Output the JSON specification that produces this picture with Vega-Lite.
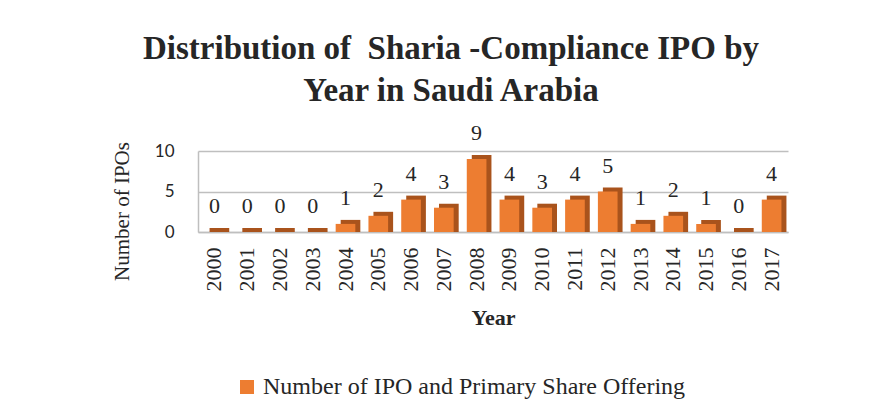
{
  "$schema": "https://vega.github.io/schema/vega-lite/v6.json",
  "autosize": "none",
  "width": 590,
  "height": 81,
  "padding": {"left": 198, "top": 151, "right": 95, "bottom": 180},
  "background": "white",
  "config": {"view": {"stroke": null}},
  "title": {
    "text": ["Distribution of\u00a0 Sharia -Compliance IPO by", "Year in Saudi Arabia"],
    "font": "Liberation Serif",
    "fontSize": 33,
    "fontWeight": "bold",
    "color": "#262626",
    "lineHeight": 42,
    "anchor": "middle",
    "frame": "group",
    "dx": -42,
    "offset": 14
  },
  "data": {
    "values": [
      {"Year": "2000", "IPOs": 0, "Series": "Number of IPO and Primary Share Offering"},
      {"Year": "2001", "IPOs": 0, "Series": "Number of IPO and Primary Share Offering"},
      {"Year": "2002", "IPOs": 0, "Series": "Number of IPO and Primary Share Offering"},
      {"Year": "2003", "IPOs": 0, "Series": "Number of IPO and Primary Share Offering"},
      {"Year": "2004", "IPOs": 1, "Series": "Number of IPO and Primary Share Offering"},
      {"Year": "2005", "IPOs": 2, "Series": "Number of IPO and Primary Share Offering"},
      {"Year": "2006", "IPOs": 4, "Series": "Number of IPO and Primary Share Offering"},
      {"Year": "2007", "IPOs": 3, "Series": "Number of IPO and Primary Share Offering"},
      {"Year": "2008", "IPOs": 9, "Series": "Number of IPO and Primary Share Offering"},
      {"Year": "2009", "IPOs": 4, "Series": "Number of IPO and Primary Share Offering"},
      {"Year": "2010", "IPOs": 3, "Series": "Number of IPO and Primary Share Offering"},
      {"Year": "2011", "IPOs": 4, "Series": "Number of IPO and Primary Share Offering"},
      {"Year": "2012", "IPOs": 5, "Series": "Number of IPO and Primary Share Offering"},
      {"Year": "2013", "IPOs": 1, "Series": "Number of IPO and Primary Share Offering"},
      {"Year": "2014", "IPOs": 2, "Series": "Number of IPO and Primary Share Offering"},
      {"Year": "2015", "IPOs": 1, "Series": "Number of IPO and Primary Share Offering"},
      {"Year": "2016", "IPOs": 0, "Series": "Number of IPO and Primary Share Offering"},
      {"Year": "2017", "IPOs": 4, "Series": "Number of IPO and Primary Share Offering"}
    ]
  },
  "encoding": {
    "x": {
      "field": "Year",
      "type": "ordinal",
      "scale": {"paddingInner": 0.4, "paddingOuter": 0.2},
      "axis": {
        "title": "Year",
        "titleFont": "Liberation Serif",
        "titleFontSize": 22,
        "titleFontWeight": "bold",
        "titleColor": "#262626",
        "titlePadding": 16,
        "labelFont": "Liberation Serif",
        "labelFontSize": 22,
        "labelColor": "#262626",
        "labelAngle": -90,
        "labelPadding": 15,
        "ticks": false,
        "domainColor": "#BFBFBF",
        "domainWidth": 1.5
      }
    }
  },
  "layer": [
    {
      "mark": {"type": "bar", "color": "#A9531C", "xOffset": 5, "yOffset": -4, "y2Offset": 0},
      "encoding": {
        "y": {
          "field": "IPOs",
          "type": "quantitative",
          "scale": {"domain": [0, 10]},
          "axis": {
            "title": "Number of IPOs",
            "titleFont": "Liberation Serif",
            "titleFontSize": 21,
            "titleFontWeight": "normal",
            "titleColor": "#262626",
            "titlePadding": 22,
            "titleY": 60,
            "labelFont": "Lato",
            "labelFontSize": 17,
            "labelColor": "#262626",
            "labelPadding": 24,
            "values": [0, 5, 10],
            "ticks": false,
            "domain": true,
            "domainColor": "#BFBFBF",
            "domainWidth": 1.5,
            "grid": true,
            "gridColor": "#BFBFBF",
            "gridWidth": 1.5
          }
        },
        "y2": {"datum": 0}
      }
    },
    {
      "mark": {"type": "bar", "color": "#ED7D31"},
      "encoding": {
        "y": {"field": "IPOs", "type": "quantitative"},
        "fill": {
          "field": "Series",
          "type": "nominal",
          "scale": {"range": ["#ED7D31"]},
          "legend": {
            "title": null,
            "orient": "none",
            "legendX": 37,
            "legendY": 224,
            "padding": 0,
            "symbolType": "square",
            "symbolSize": 196,
            "symbolStrokeWidth": 0,
            "symbolOffset": 0,
            "labelFont": "Liberation Serif",
            "labelFontSize": 24,
            "labelColor": "#262626",
            "labelOffset": 4,
            "labelLimit": 0
          }
        }
      }
    },
    {
      "mark": {"type": "text", "font": "Liberation Serif", "fontSize": 22, "color": "#262626", "baseline": "bottom", "dy": -14},
      "encoding": {
        "y": {"field": "IPOs", "type": "quantitative"},
        "text": {"field": "IPOs", "type": "quantitative"}
      }
    }
  ]
}
